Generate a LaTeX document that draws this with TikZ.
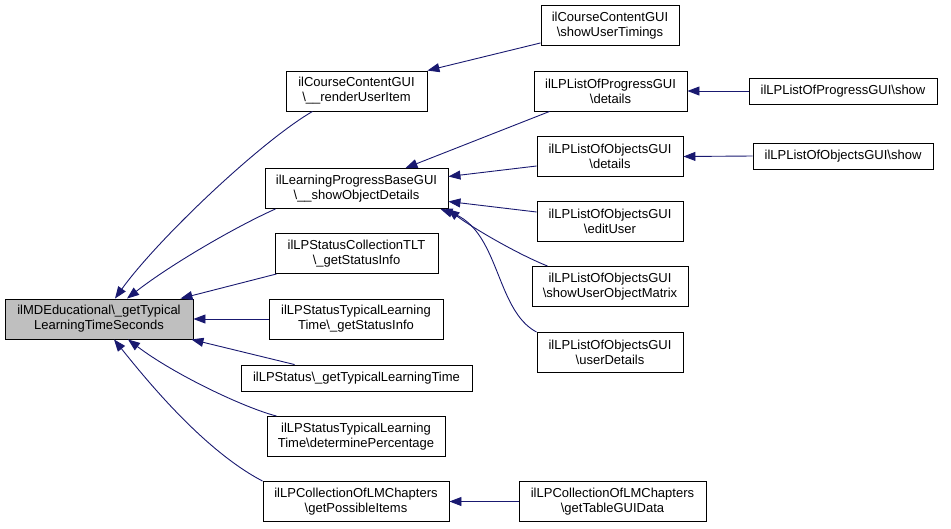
\documentclass[tikz,border=0pt]{standalone}
\usepackage{fontspec}
\setmainfont{Liberation Sans}
\usetikzlibrary{arrows.meta}
\definecolor{edgeblue}{HTML}{191970}
\definecolor{rootgray}{HTML}{BFBFBF}
\begin{document}
\begin{tikzpicture}[x=1pt, y=-1pt,
    fn/.style={draw=black, line width=0.9pt, fill=white, align=center, inner sep=0pt, minimum height=40, font=\fontsize{13}{15}\selectfont},
    fnone/.style={fn, minimum height=26},
    call/.style={draw=edgeblue, line width=0.9pt, -{Triangle[length=12pt,width=9pt]}}]
    \useasboundingbox (0,0) rectangle (951,528);
    \node[fn, fill=rootgray, minimum width=188] (root) at (99,319) {ilMDEducational\textbackslash\_getTypical\\LearningTimeSeconds};
    \node[fn, minimum width=141] (rui)  at (356.5,91)  {ilCourseContentGUI\\\textbackslash\_\_renderUserItem};
    \node[fn, minimum width=183] (sod)  at (356.5,188.5) {ilLearningProgressBaseGUI\\\textbackslash\_\_showObjectDetails};
    \node[fn, minimum width=163] (sct)  at (356.5,253.5) {ilLPStatusCollectionTLT\\\textbackslash\_getStatusInfo};
    \node[fn, minimum width=174] (stg)  at (356,319)   {ilLPStatusTypicalLearning\\Time\textbackslash\_getStatusInfo};
    \node[fnone, minimum width=231] (gtl) at (356.5,378) {ilLPStatus\textbackslash\_getTypicalLearningTime};
    \node[fn, minimum width=178] (dp)   at (356,436.5) {ilLPStatusTypicalLearning\\Time\textbackslash determinePercentage};
    \node[fn, minimum width=186] (gpi)  at (356,501.5) {ilLPCollectionOfLMChapters\\\textbackslash getPossibleItems};
    \node[fn, minimum width=138] (sut)  at (610,25.5)  {ilCourseContentGUI\\\textbackslash showUserTimings};
    \node[fn, minimum width=153] (lpd)  at (610.5,91)  {ilLPListOfProgressGUI\\\textbackslash details};
    \node[fnone, minimum width=188] (lps) at (843,91)  {ilLPListOfProgressGUI\textbackslash show};
    \node[fn, minimum width=146] (lod)  at (610,156.5) {ilLPListOfObjectsGUI\\\textbackslash details};
    \node[fnone, minimum width=180] (los) at (843,156) {ilLPListOfObjectsGUI\textbackslash show};
    \node[fn, minimum width=146] (eu)   at (610,221.5) {ilLPListOfObjectsGUI\\\textbackslash editUser};
    \node[fn, minimum width=156] (suom) at (610,286.5) {ilLPListOfObjectsGUI\\\textbackslash showUserObjectMatrix};
    \node[fn, minimum width=146] (ud)   at (610,352.5) {ilLPListOfObjectsGUI\\\textbackslash userDetails};
    \node[fn, minimum width=187] (tgd)  at (612.5,501.5) {ilLPCollectionOfLMChapters\\\textbackslash getTableGUIData};
    \draw[call] ([xshift=-44]rui.south) .. controls (260,142) and (157,240) .. ([xshift=16]root.north);
    \draw[call] ([xshift=-81]sod.south) .. controls (235,227) and (170,265) .. ([xshift=28]root.north);
    \draw[call] ([xshift=2]sct.south west) -- ([xshift=-13]root.north east);
    \draw[call] (stg.west) -- (root.east);
    \draw[call] ([xshift=54]gtl.north west) -- ([xshift=-2]root.south east);
    \draw[call] ([xshift=10]dp.north west) .. controls (245,408) and (175,375) .. ([xshift=29]root.south);
    \draw[call] (gpi.north west) .. controls (203,450) and (145,378) .. ([xshift=15]root.south);
    \draw[call] ([yshift=3]sut.south west) -- (rui.north east);
    \draw[call] ([xshift=16]lpd.south west) -- ([xshift=-43]sod.north east);
    \draw[call] ([yshift=-9.5]lod.west) -- ([yshift=12]sod.east);
    \draw[call] ([yshift=9.5]eu.west) -- ([yshift=-13]sod.east);
    \draw[call] ([xshift=16]suom.north west) .. controls (515,253) and (470,226) .. ([xshift=-1]sod.south east);
    \draw[call] (ud.north west) .. controls (495,310) and (500,230) .. ([xshift=-8]sod.south east);
    \draw[call] (lps.west) -- (lpd.east);
    \draw[call] (los.west) -- (lod.east);
    \draw[call] (tgd.west) -- (gpi.east);
\end{tikzpicture}
\end{document}
